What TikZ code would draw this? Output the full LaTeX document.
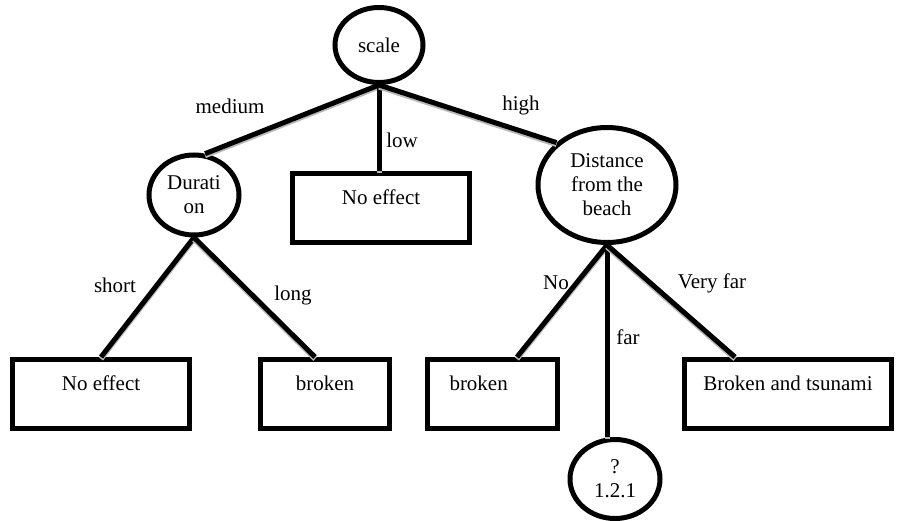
\documentclass[tikz,border=0pt]{standalone}
\usepackage{fontspec}
\setmainfont{Liberation Serif}
\usetikzlibrary{shapes.geometric}

\begin{document}
\begin{tikzpicture}[x=0.75pt, y=-0.75pt,
  font=\fontsize{15.75}{18}\selectfont,
  attr/.style={ellipse, draw, line width=3.75pt, inner sep=0pt, align=center},
  leaf/.style={rectangle, draw, line width=3.75pt, inner sep=0pt, minimum height=51.75pt, text height=10pt, text depth=16pt},
  branch/.style={line width=3.75pt, preaction={draw=gray!55, line width=3.75pt, transform canvas={yshift=-1.5pt}}},
  val/.style={inner sep=1pt}]
\useasboundingbox (0,0) rectangle (897,521);

% 结点
\node[attr, minimum width=66pt, minimum height=56.25pt] (scale) at (379,45) {scale};
\node[attr, minimum width=67.5pt, minimum height=60pt] (dur) at (194,195) {Durati\\on};
\node[leaf, minimum width=132.75pt] (noeffA) at (381,208) {No effect};
\node[attr, minimum width=103.5pt, minimum height=86.25pt] (dist) at (607,185) {Distance\\from the\\beach};
\node[leaf, minimum width=132.75pt] (noeffB) at (101,394) {No effect};
\node[leaf, minimum width=96.75pt] (brokA) at (325,394) {broken};
\node[leaf, minimum width=97.5pt, text width=63.75pt, align=left] (brokB) at (492,394) {broken};
\node[leaf, minimum width=155.25pt] (tsun) at (788,394) {Broken and tsunami};
\node[attr, minimum width=67.5pt, minimum height=59.25pt] (quest) at (615,479) {?\\1.2.1};

% 连线
\draw[branch] (scale.south) -- (dur.75);
\draw[branch] (scale.south) -- (scale.south |- noeffA.north);
\draw[branch] (scale.south) -- (dist.140);
\draw[branch] (dur.south) -- (noeffB.north);
\draw[branch] (dur.south) -- ([xshift=-7.5pt]brokA.north);
\draw[branch] (dist.south) -- ([xshift=18.75pt]brokB.north);
\draw[branch] (dist.south) -- (dist.south |- quest.north);
\draw[branch] (dist.south) -- ([xshift=-39.75pt]tsun.north);

% 取值
\node[val] (vmed) at (230,106) {medium};
\node[val] (vlow) at (402,140) {low};
\node[val] (vhigh) at (521,105) {high};
\node[val] (vshort) at (115,285) {short};
\node[val] (vlong) at (293,295) {long};
\node[val] (vno) at (556,283) {No};
\node[val] (vfar) at (628,337) {far};
\node[val] (vvfar) at (712,283) {Very far};
\end{tikzpicture}
\end{document}
